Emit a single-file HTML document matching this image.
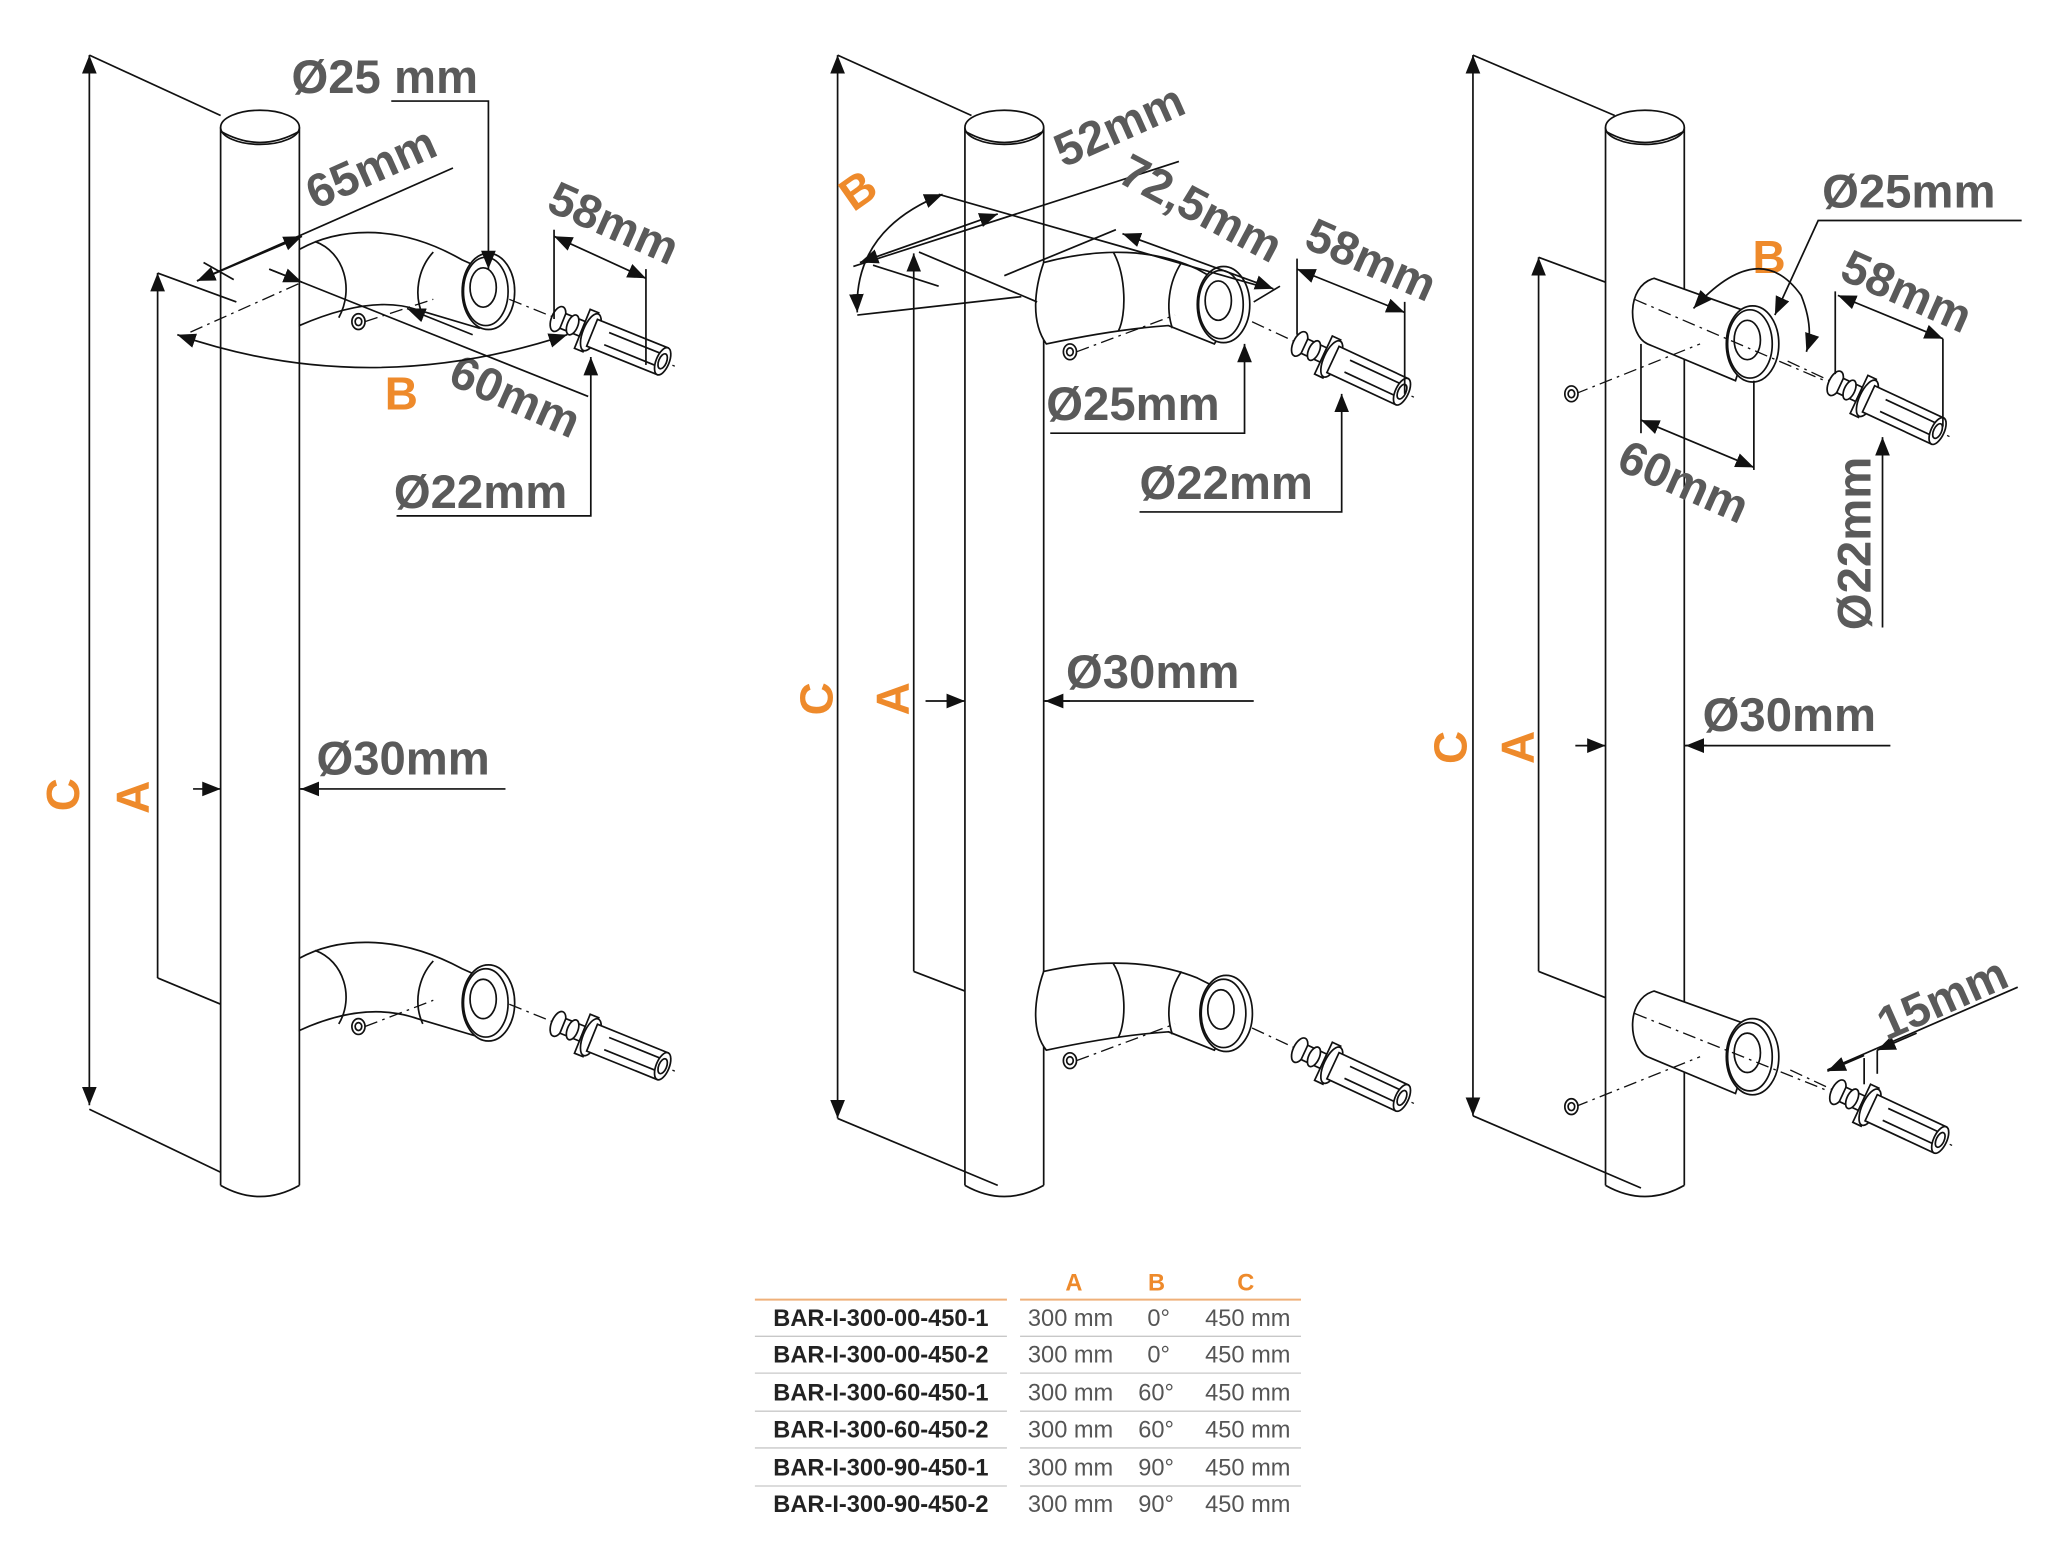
<!DOCTYPE html>
<html><head><meta charset="utf-8"><style>
html,body{margin:0;padding:0;background:#fff;}
svg{display:block;}
.t{font-family:"Liberation Sans",sans-serif;font-weight:bold;fill:#5a5a5a;font-size:36px;}
.o{font-family:"Liberation Sans",sans-serif;font-weight:bold;fill:#ee8a2b;font-size:35px;}
.l{stroke:#111;stroke-width:1.3;fill:none;}
.p{stroke:#111;stroke-width:1.3;fill:#fff;}
.d{stroke:#111;stroke-width:1;fill:none;stroke-dasharray:10 4 2 4;}
.tb{font-family:"Liberation Sans",sans-serif;font-size:18px;}
</style></head><body>
<svg width="2048" height="1549" viewBox="0 0 1560 1180" xmlns="http://www.w3.org/2000/svg">
<defs>
<marker id="a" viewBox="0 0 10 10" refX="10" refY="5" markerWidth="14" markerHeight="14" markerUnits="userSpaceOnUse" orient="auto-start-reverse"><path d="M0,1 L10,5 L0,9z" fill="#111"/></marker>
<g id="conn">
 <line class="d" x1="-40" y1="0" x2="100" y2="0"/>
 <ellipse class="p" cx="0" cy="0" rx="5" ry="10"/>
 <rect class="p" x="4" y="-6" width="16" height="12"/>
 <ellipse class="p" cx="12" cy="0" rx="4" ry="8"/>
 <rect class="p" x="20" y="-16" width="7" height="32"/>
 <ellipse class="p" cx="27" cy="0" rx="6" ry="15"/>
 <rect class="p" x="28" y="-11" width="58" height="22"/>
 <line class="l" x1="40" y1="-5" x2="82" y2="-5"/>
 <line class="l" x1="40" y1="5" x2="82" y2="5"/>
 <ellipse class="p" cx="86" cy="0" rx="5" ry="11"/>
 <ellipse class="l" cx="86" cy="0" rx="3" ry="6"/>
</g>
<g id="ring">
 <ellipse class="p" cx="0" cy="0" rx="20" ry="29"/>
 <ellipse class="l" cx="-2" cy="0" rx="17" ry="26"/>
 <ellipse class="l" cx="-4" cy="-3" rx="10" ry="15"/>
</g>
<g id="screw"><ellipse class="p" cx="0" cy="0" rx="5" ry="6"/><ellipse class="l" cx="0" cy="0" rx="2.5" ry="3"/></g>
</defs>

<!-- ============ BAR 1 ============ -->
<g>
 <line class="l" x1="168" y1="97" x2="168" y2="903"/>
 <line class="l" x1="228" y1="97" x2="228" y2="903"/>
 <path class="l" d="M168,903 Q198,920 228,903"/>
 <ellipse class="p" cx="198" cy="97" rx="30" ry="13"/>
 <path class="l" d="M168,100 Q198,117 228,100"/>
 <line class="l" x1="68" y1="42" x2="68" y2="842" marker-start="url(#a)" marker-end="url(#a)"/>
 <line class="l" x1="68" y1="42" x2="168" y2="88"/>
 <line class="l" x1="68" y1="845" x2="168" y2="893"/>
 <line class="l" x1="120" y1="208" x2="120" y2="745" marker-start="url(#a)"/>
 <line class="l" x1="120" y1="208" x2="180" y2="230"/>
 <line class="l" x1="120" y1="745" x2="168" y2="765"/>
 <text class="o" transform="translate(60,618) rotate(-90)">C</text>
 <text class="o" transform="translate(113,620) rotate(-90)">A</text>
 <line class="l" x1="147" y1="601" x2="168" y2="601" marker-end="url(#a)"/>
 <line class="l" x1="228" y1="601" x2="385" y2="601"/>
 <line class="l" x1="240" y1="601" x2="229" y2="601" marker-end="url(#a)"/>
 <text class="t" x="241" y="590">Ø30mm</text>
 <path class="p" d="M228,190 C255,175 300,168 352,198 L388,214 L365,250 L318,236 C295,228 265,232 228,248 Z"/>
 <path class="l" d="M240,184 C262,192 270,220 258,242"/>
 <path class="l" d="M330,192 C318,205 315,225 322,240"/>
 <use href="#ring" x="372" y="222"/>
 <line class="d" x1="278" y1="245" x2="330" y2="228"/>
 <use href="#screw" x="273" y="245"/>
 <use href="#conn" transform="translate(425,243) rotate(22)"/>
 <text class="t" x="222" y="71">Ø25 mm</text>
 <path class="l" d="M298,77 L372,77 L372,205" marker-end="url(#a)"/>
 <line class="l" x1="150" y1="214" x2="345" y2="128"/>
 <line class="l" x1="150" y1="214" x2="230" y2="180" marker-start="url(#a)" marker-end="url(#a)"/>
 <text class="t" transform="translate(240,160) rotate(-24)">65mm</text>
 <line class="l" x1="155" y1="200" x2="178" y2="213"/>
 <line class="l" x1="205" y1="205" x2="448" y2="302"/>
 <line class="l" x1="205" y1="205" x2="230" y2="215" marker-end="url(#a)"/>
 <line class="l" x1="360" y1="255" x2="310" y2="235" marker-end="url(#a)"/>
 <text class="t" transform="translate(340,292) rotate(24)">60mm</text>
 <line class="l" x1="422" y1="175" x2="422" y2="243"/>
 <line class="l" x1="492" y1="205" x2="492" y2="278"/>
 <line class="l" x1="422" y1="180" x2="492" y2="212" marker-start="url(#a)" marker-end="url(#a)"/>
 <text class="t" transform="translate(415,160) rotate(24)">58mm</text>
 <path class="d" d="M145,253 L230,215"/>
 <path class="l" d="M135,255 Q280,305 432,255" marker-start="url(#a)" marker-end="url(#a)"/>
 <text class="o" x="293" y="312">B</text>
 <path class="l" d="M302,393 L450,393 L450,272" marker-end="url(#a)"/>
 <text class="t" x="300" y="387">Ø22mm</text>
 <path class="p" d="M228,730 C255,715 300,710 352,738 L388,754 L365,790 L318,776 C295,768 265,768 228,785 Z"/>
 <path class="l" d="M240,724 C262,732 270,760 258,780"/>
 <path class="l" d="M330,732 C318,745 315,765 322,780"/>
 <use href="#ring" x="372" y="764"/>
 <line class="d" x1="278" y1="782" x2="330" y2="762"/>
 <use href="#screw" x="273" y="782"/>
 <use href="#conn" transform="translate(425,780) rotate(22)"/>
</g>

<!-- ============ BAR 2 ============ -->
<g>
 <line class="l" x1="735" y1="97" x2="735" y2="903"/>
 <line class="l" x1="795" y1="97" x2="795" y2="903"/>
 <path class="l" d="M735,903 Q765,920 795,903"/>
 <ellipse class="p" cx="765" cy="97" rx="30" ry="13"/>
 <path class="l" d="M735,100 Q765,117 795,100"/>
 <line class="l" x1="638" y1="42" x2="638" y2="852" marker-start="url(#a)" marker-end="url(#a)"/>
 <line class="l" x1="638" y1="42" x2="740" y2="88"/>
 <line class="l" x1="638" y1="852" x2="760" y2="903"/>
 <line class="l" x1="696" y1="193" x2="696" y2="740" marker-start="url(#a)"/>
 <line class="l" x1="696" y1="740" x2="735" y2="755"/>
 <text class="o" transform="translate(634,545) rotate(-90)">C</text>
 <text class="o" transform="translate(692,545) rotate(-90)">A</text>
 <line class="l" x1="705" y1="534" x2="735" y2="534" marker-end="url(#a)"/>
 <line class="l" x1="795" y1="534" x2="955" y2="534"/>
 <line class="l" x1="815" y1="534" x2="796" y2="534" marker-end="url(#a)"/>
 <text class="t" x="812" y="524">Ø30mm</text>
 <path class="p" d="M795,200 C840,188 880,190 912,205 L948,225 L925,262 L890,248 C860,250 830,255 797,262 C785,245 788,220 795,200 Z"/>
 <path class="l" d="M848,192 C858,210 858,240 852,252"/>
 <path class="l" d="M900,200 C890,215 888,235 893,250"/>
 <use href="#ring" x="932" y="232"/>
 <line class="d" x1="820" y1="268" x2="895" y2="240"/>
 <use href="#screw" x="815" y="268"/>
 <use href="#conn" transform="translate(990,262) rotate(25)"/>
 <line class="l" x1="650" y1="203" x2="898" y2="123"/>
 <line class="l" x1="655" y1="200" x2="760" y2="163" marker-start="url(#a)" marker-end="url(#a)"/>
 <line class="l" x1="665" y1="202" x2="715" y2="218"/>
 <text class="t" transform="translate(810,128) rotate(-24)">52mm</text>
 <line class="l" x1="700" y1="192" x2="790" y2="230"/>
 <line class="l" x1="715" y1="148" x2="960" y2="218"/>
 <line class="l" x1="765" y1="210" x2="850" y2="175"/>
 <line class="l" x1="855" y1="178" x2="970" y2="220" marker-start="url(#a)" marker-end="url(#a)"/>
 <line class="l" x1="955" y1="230" x2="975" y2="218"/>
 <text class="t" transform="translate(850,138) rotate(28)">72,5mm</text>
 <path class="l" d="M718,148 Q650,175 653,238" marker-start="url(#a)" marker-end="url(#a)"/>
 <line class="l" x1="653" y1="240" x2="778" y2="226"/>
 <text class="o" transform="translate(650,162) rotate(-35)">B</text>
 <line class="l" x1="988" y1="197" x2="988" y2="255"/>
 <line class="l" x1="1070" y1="230" x2="1070" y2="300"/>
 <line class="l" x1="988" y1="205" x2="1070" y2="238" marker-start="url(#a)" marker-end="url(#a)"/>
 <text class="t" transform="translate(992,188) rotate(24)">58mm</text>
 <path class="l" d="M800,330 L948,330 L948,262" marker-end="url(#a)"/>
 <text class="t" x="797" y="320">Ø25mm</text>
 <path class="l" d="M868,390 L1022,390 L1022,300" marker-end="url(#a)"/>
 <text class="t" x="868" y="380">Ø22mm</text>
 <path class="p" d="M795,740 C840,730 880,732 912,745 L948,763 L925,800 L890,786 C860,788 830,793 797,800 C785,785 788,760 795,740 Z"/>
 <path class="l" d="M848,734 C858,750 858,778 852,790"/>
 <path class="l" d="M900,740 C890,755 888,773 893,788"/>
 <use href="#ring" x="934" y="772"/>
 <line class="d" x1="820" y1="808" x2="895" y2="780"/>
 <use href="#screw" x="815" y="808"/>
 <use href="#conn" transform="translate(990,800) rotate(25)"/>
</g>

<!-- ============ BAR 3 ============ -->
<g>
 <line class="l" x1="1223" y1="97" x2="1223" y2="903"/>
 <line class="l" x1="1283" y1="97" x2="1283" y2="903"/>
 <path class="l" d="M1223,903 Q1253,920 1283,903"/>
 <ellipse class="p" cx="1253" cy="97" rx="30" ry="13"/>
 <path class="l" d="M1223,100 Q1253,117 1283,100"/>
 <line class="l" x1="1122" y1="42" x2="1122" y2="850" marker-start="url(#a)" marker-end="url(#a)"/>
 <line class="l" x1="1122" y1="42" x2="1230" y2="88"/>
 <line class="l" x1="1122" y1="850" x2="1250" y2="905"/>
 <line class="l" x1="1172" y1="196" x2="1172" y2="740" marker-start="url(#a)"/>
 <line class="l" x1="1172" y1="196" x2="1223" y2="215"/>
 <line class="l" x1="1172" y1="740" x2="1223" y2="760"/>
 <text class="o" transform="translate(1117,582) rotate(-90)">C</text>
 <text class="o" transform="translate(1168,582) rotate(-90)">A</text>
 <line class="l" x1="1200" y1="568" x2="1223" y2="568" marker-end="url(#a)"/>
 <line class="l" x1="1283" y1="568" x2="1440" y2="568"/>
 <line class="l" x1="1300" y1="568" x2="1284" y2="568" marker-end="url(#a)"/>
 <text class="t" x="1297" y="557">Ø30mm</text>
 <path class="p" d="M1260,212 L1338,240 L1322,290 L1255,262 C1240,255 1238,218 1260,212 Z"/>
 <use href="#ring" x="1335" y="262"/>
 <line class="d" x1="1200" y1="300" x2="1295" y2="262"/>
 <line class="d" x1="1245" y1="228" x2="1390" y2="290"/>
 <use href="#screw" x="1197" y="300"/>
 <use href="#conn" transform="translate(1398,292) rotate(25)"/>
 <text class="t" x="1388" y="158">Ø25mm</text>
 <path class="l" d="M1540,168 L1385,168 L1352,240" marker-end="url(#a)"/>
 <text class="o" x="1335" y="208">B</text>
 <path class="l" d="M1290,235 Q1340,180 1372,225 Q1382,250 1376,268" marker-start="url(#a)" marker-end="url(#a)"/>
 <line class="l" x1="1250" y1="262" x2="1250" y2="330"/>
 <line class="l" x1="1336" y1="290" x2="1336" y2="358"/>
 <line class="l" x1="1250" y1="320" x2="1336" y2="356" marker-start="url(#a)" marker-end="url(#a)"/>
 <text class="t" transform="translate(1230,357) rotate(24)">60mm</text>
 <line class="l" x1="1398" y1="222" x2="1398" y2="285"/>
 <line class="l" x1="1480" y1="258" x2="1480" y2="325"/>
 <line class="l" x1="1400" y1="225" x2="1480" y2="258" marker-start="url(#a)" marker-end="url(#a)"/>
 <text class="t" transform="translate(1400,212) rotate(24)">58mm</text>
 <line class="l" x1="1434" y1="478" x2="1434" y2="333" marker-end="url(#a)"/>
 <text class="t" transform="translate(1425,480) rotate(-90)">Ø22mm</text>
 <path class="p" d="M1260,755 L1338,783 L1322,833 L1255,805 C1240,798 1238,761 1260,755 Z"/>
 <use href="#ring" x="1335" y="805"/>
 <line class="d" x1="1200" y1="843" x2="1295" y2="805"/>
 <line class="d" x1="1245" y1="772" x2="1390" y2="830"/>
 <use href="#screw" x="1197" y="843"/>
 <use href="#conn" transform="translate(1400,832) rotate(25)"/>
 <line class="l" x1="1392" y1="815" x2="1537" y2="752"/>
 <line class="l" x1="1392" y1="816" x2="1420" y2="804" marker-start="url(#a)"/>
 <line class="l" x1="1460" y1="787" x2="1430" y2="800" marker-end="url(#a)"/>
 <line class="l" x1="1420" y1="806" x2="1420" y2="826"/>
 <line class="l" x1="1430" y1="800" x2="1430" y2="818"/>
 <text class="t" transform="translate(1437,793) rotate(-24)">15mm</text>
</g>

<!-- ============ TABLE ============ -->
<g class="tb">
 <text x="818" y="983" fill="#ee8a2b" font-weight="bold" text-anchor="middle">A</text>
 <text x="881" y="983" fill="#ee8a2b" font-weight="bold" text-anchor="middle">B</text>
 <text x="949" y="983" fill="#ee8a2b" font-weight="bold" text-anchor="middle">C</text>
 <line x1="575" y1="990" x2="767" y2="990" stroke="#efb07a" stroke-width="1.5"/>
 <line x1="777" y1="990" x2="991" y2="990" stroke="#efb07a" stroke-width="1.5"/>
 <g fill="#222" font-weight="bold" text-anchor="middle">
  <text x="671" y="1010">BAR-I-300-00-450-1</text>
  <text x="671" y="1038">BAR-I-300-00-450-2</text>
  <text x="671" y="1067">BAR-I-300-60-450-1</text>
  <text x="671" y="1095">BAR-I-300-60-450-2</text>
  <text x="671" y="1124">BAR-I-300-90-450-1</text>
  <text x="671" y="1152">BAR-I-300-90-450-2</text>
 </g>
 <g fill="#555">
  <text x="783" y="1010">300 mm</text><text x="874" y="1010">0°</text><text x="918" y="1010">450 mm</text>
  <text x="783" y="1038">300 mm</text><text x="874" y="1038">0°</text><text x="918" y="1038">450 mm</text>
  <text x="783" y="1067">300 mm</text><text x="867" y="1067">60°</text><text x="918" y="1067">450 mm</text>
  <text x="783" y="1095">300 mm</text><text x="867" y="1095">60°</text><text x="918" y="1095">450 mm</text>
  <text x="783" y="1124">300 mm</text><text x="867" y="1124">90°</text><text x="918" y="1124">450 mm</text>
  <text x="783" y="1152">300 mm</text><text x="867" y="1152">90°</text><text x="918" y="1152">450 mm</text>
 </g>
 <g stroke="#c8c8c8" stroke-width="1">
  <line x1="575" y1="1018" x2="767" y2="1018"/><line x1="777" y1="1018" x2="991" y2="1018"/>
  <line x1="575" y1="1046" x2="767" y2="1046"/><line x1="777" y1="1046" x2="991" y2="1046"/>
  <line x1="575" y1="1075" x2="767" y2="1075"/><line x1="777" y1="1075" x2="991" y2="1075"/>
  <line x1="575" y1="1103" x2="767" y2="1103"/><line x1="777" y1="1103" x2="991" y2="1103"/>
  <line x1="575" y1="1132" x2="767" y2="1132"/><line x1="777" y1="1132" x2="991" y2="1132"/>
 </g>
</g>
</svg>
</body></html>
